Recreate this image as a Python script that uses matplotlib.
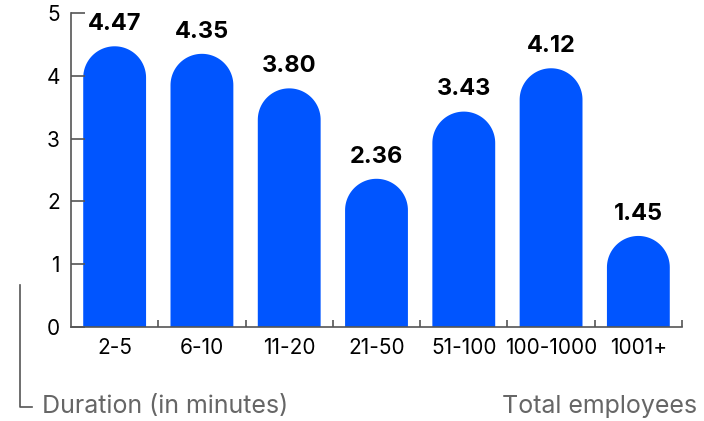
import matplotlib
matplotlib.use('Agg')
import numpy as np
import matplotlib.pyplot as plt
from matplotlib.patches import PathPatch
from matplotlib.path import Path
from matplotlib.lines import Line2D

plt.rcParams['font.family'] = ['Inter', 'DejaVu Sans']

categories = ['2-5', '6-10', '11-20', '21-50', '51-100', '100-1000', '1001+']
values = [4.47, 4.35, 3.80, 2.36, 3.43, 4.12, 1.45]
labels = ['4.47', '4.35', '3.80', '2.36', '3.43', '4.12', '1.45']

blue = '#0055ff'
axis_col = '#555555'
grey_txt = '#666666'

W, H = 704, 421
fig = plt.figure(figsize=(W / 100, H / 100), dpi=100)
x0, x1, y0, y1 = 71, 682, 327, 13
ax = fig.add_axes([x0 / W, 1 - y0 / H, (x1 - x0) / W, (y0 - y1) / H])
ax.set_xlim(-0.5, len(categories) - 0.5)
ax.set_ylim(0, 5)

# bars with round tops, radius kept circular in pixels
bw = 0.72
px_x = (x1 - x0) / len(categories)
px_y = (y0 - y1) / 5.0
rx = bw / 2
ry = rx * px_x / px_y
t = np.linspace(np.pi, 0, 60)
for i, v in enumerate(values):
    arc = np.column_stack([i + rx * np.cos(t), v - ry + ry * np.sin(t)])
    verts = np.vstack([[i - rx, 0], arc, [i + rx, 0], [i - rx, 0]])
    ax.add_patch(PathPatch(Path(verts, closed=True), facecolor=blue, lw=0))
    ax.annotate(labels[i], (i, v), xytext=(0, 8), textcoords='offset points',
                ha='center', va='bottom', fontsize=17, fontweight='bold')

for s in ['top', 'right']:
    ax.spines[s].set_visible(False)
for s in ['left', 'bottom']:
    ax.spines[s].set_color(axis_col)
    ax.spines[s].set_linewidth(1.2)

ax.set_yticks(range(6))
ax.tick_params(axis='y', direction='in', length=10, width=1.2, color=axis_col,
               labelsize=15, pad=8)
ax.set_xticks(range(len(categories)))
ax.set_xticklabels(categories)
ax.tick_params(axis='x', which='major', length=0, labelsize=15, pad=8)
ax.set_xticks([i + 0.5 for i in range(len(categories))], minor=True)
ax.tick_params(axis='x', which='minor', direction='in', length=5, width=1.2,
               color=axis_col)

# footer labels
fig.text(42 / W, 1 - 407 / H, 'Duration (in minutes)', ha='left', va='center',
         fontsize=18, color=grey_txt)
fig.text(697 / W, 1 - 407 / H, 'Total employees', ha='right', va='center',
         fontsize=18, color=grey_txt)
fig.add_artist(Line2D([20 / W, 20 / W, 32 / W],
                      [1 - 285 / H, 1 - 407 / H, 1 - 407 / H],
                      color=axis_col, lw=1.2))

fig.savefig('out.png', dpi=100)
